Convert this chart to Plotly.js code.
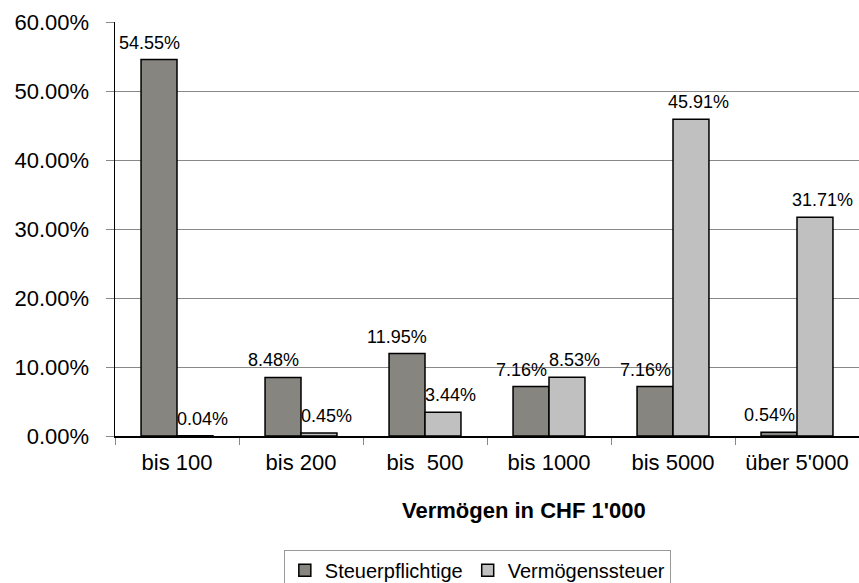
<!DOCTYPE html>
<html>
<head>
<meta charset="utf-8">
<script src="https://cdn.plot.ly/plotly-3.0.1.min.js"></script>
<style>html,body{margin:0;padding:0;background:#fff;}#chart{width:859px;height:583px;}</style>
</head>
<body>
<div id="chart"></div>
<script>
const categories = ["bis 100", "bis 200", "bis\u00a0\u00a0500", "bis 1000", "bis 5000", "über 5'000"];
const steuerpflichtige = [54.55, 8.48, 11.95, 7.16, 7.16, 0.54];
const vermoegenssteuer = [0.04, 0.45, 3.44, 8.53, 45.91, 31.71];
const yTicks = [0, 10, 20, 30, 40, 50, 60];
const yTickLabels = ["0.00%", "10.00%", "20.00%", "30.00%", "40.00%", "50.00%", "60.00%"];

const font = "Arial, 'Liberation Sans', sans-serif";
const W = 859, H = 583;
const margin = {l: 115, r: 0, t: 22, b: 147, autoexpand: false};
const bargap = 0.42;

const series = [
  {name: "Steuerpflichtige", values: steuerpflichtige, color: "#86857f", side: -1, labelShift: -10},
  {name: "Vermögenssteuer", values: vermoegenssteuer, color: "#c0c0c0", side: 1, labelShift: 8}
];

const traces = series.map(s => ({
  type: "bar",
  name: s.name,
  x: categories,
  y: s.values,
  marker: {color: s.color, line: {color: "#000", width: 1.5}},
  hoverinfo: "skip"
}));

// bar pixel width derived from the layout, used to place value labels above each bar
const plotW = W - margin.l - margin.r;
const barPx = plotW / categories.length * (1 - bargap) / series.length;

const valueLabels = [];
series.forEach(s => {
  s.values.forEach((v, i) => {
    valueLabels.push({
      text: v.toFixed(2) + "%",
      xref: "x", yref: "y",
      x: categories[i], y: v,
      xanchor: "center", yanchor: "bottom",
      xshift: s.side * barPx / 2 + s.labelShift,
      yshift: 5,
      showarrow: false,
      font: {family: font, size: 18, color: "#000"}
    });
  });
});

const layout = {
  width: W,
  height: H,
  margin: margin,
  paper_bgcolor: "#fff",
  plot_bgcolor: "#fff",
  barmode: "group",
  bargap: bargap,
  bargroupgap: 0,
  font: {family: font, color: "#000"},
  showlegend: true,
  legend: {
    orientation: "h",
    x: 0.487, xanchor: "center",
    y: -0.275, yanchor: "top",
    bordercolor: "#999", borderwidth: 1,
    bgcolor: "#fff",
    font: {family: font, size: 20, color: "#000"},
    itemwidth: 30,
    traceorder: "normal"
  },
  xaxis: {
    type: "category",
    showline: true, linecolor: "#000", linewidth: 1.5,
    ticks: "outside", tickson: "boundaries", ticklen: 7, tickcolor: "#888",
    ticklabelstandoff: 6,
    tickfont: {family: font, size: 22, color: "#000"},
    showgrid: false, zeroline: false,
    fixedrange: true
  },
  yaxis: {
    range: [0, 60],
    tickmode: "array",
    tickvals: yTicks,
    ticktext: yTickLabels,
    showline: true, linecolor: "#000", linewidth: 1.5,
    ticks: "outside", ticklen: 8, tickcolor: "#888",
    ticklabelstandoff: 12,
    tickfont: {family: font, size: 22, color: "#000"},
    showgrid: true, gridcolor: "#888", gridwidth: 1,
    zeroline: false,
    fixedrange: true
  },
  annotations: valueLabels.concat([{
    text: "<b>Vermögen in CHF 1'000</b>",
    xref: "paper", yref: "paper",
    x: 0.55, y: -0.179,
    xanchor: "center", yanchor: "middle",
    showarrow: false,
    font: {family: font, size: 22, color: "#000"}
  }])
};

Plotly.newPlot("chart", traces, layout, {staticPlot: true, displayModeBar: false});
</script>
</body>
</html>
